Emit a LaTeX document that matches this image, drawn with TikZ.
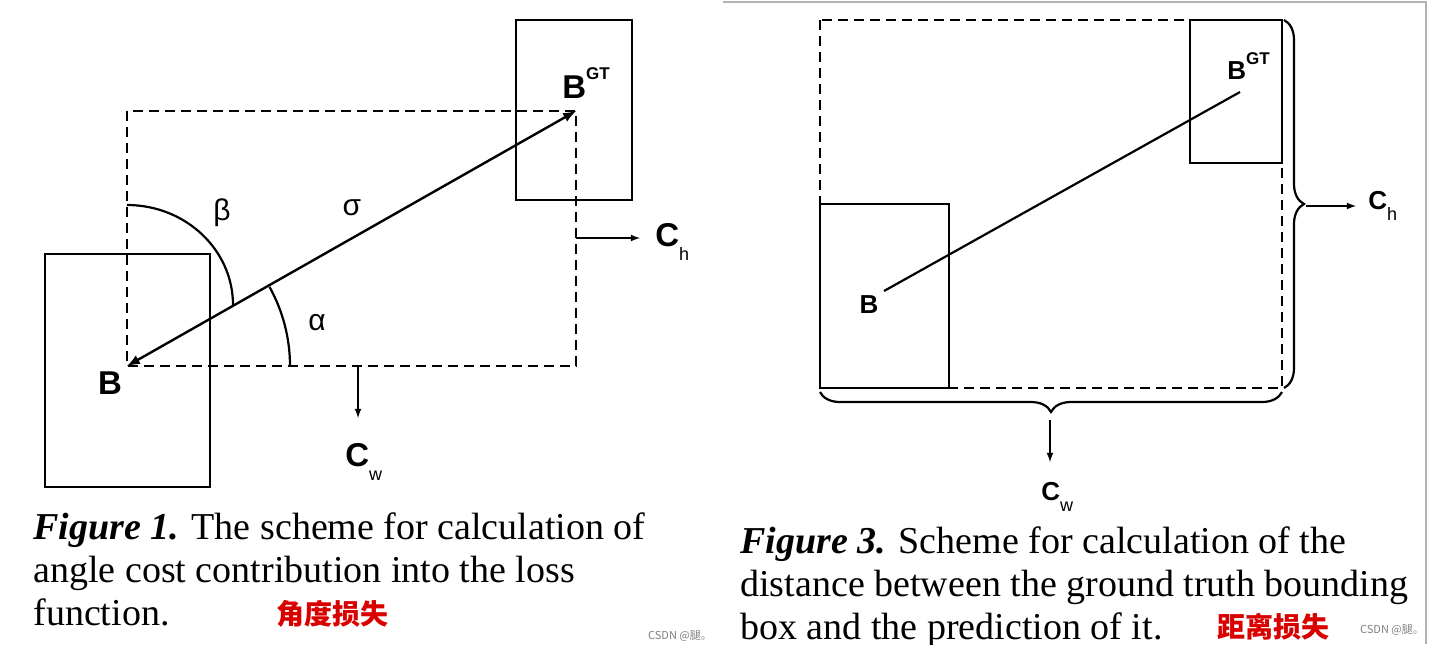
\documentclass[tikz,border=0pt]{standalone}
\usepackage{fontspec}
\setmainfont{Liberation Serif}
\newfontfamily\labelfont{Liberation Sans}
\newfontfamily\cjk{Noto Sans CJK SC}
\usepackage{tikz}
\usetikzlibrary{arrows}
\usetikzlibrary{positioning}
\usetikzlibrary{calc,decorations.pathreplacing}

\tikzset{
  box/.style={line width=1.25pt},
  dashbox/.style={line width=1.25pt, dash pattern=on 5pt off 3pt},
  pointer/.style={->, >=latex, line width=0.6pt},
  lbl/.style={font=\labelfont\bfseries\fontsize{16.5}{16.5}\selectfont, inner sep=0pt},
  slbl/.style={font=\labelfont\bfseries\fontsize{13}{13}\selectfont, inner sep=0pt},
  greek/.style={font=\labelfont\fontsize{15}{15}\selectfont, inner sep=0pt},
  brace/.style={decorate, decoration={brace, amplitude=10pt}, line width=1.1pt},
  caption/.style={align=left, inner sep=0pt, anchor=north west, font=\fontsize{19}{21.5}\selectfont},
  redtag/.style={font=\cjk\bfseries\fontsize{14}{14}\selectfont, text=red!85!black, inner sep=0pt},
  wmark/.style={font=\cjk\fontsize{5.5}{5.5}\selectfont, text=gray, inner sep=0pt}
}
\newcommand{\supGT}{\raisebox{1.1ex}{\fontsize{8.5}{8.5}\selectfont GT}}
\newcommand{\subsc}[1]{\raisebox{-0.8ex}{\fontsize{9}{9}\selectfont\mdseries #1}}

\begin{document}
\begin{tikzpicture}[x=0.5pt, y=-0.5pt]
\useasboundingbox (0,0) rectangle (1429,644);

% Figure 1: angle cost
\coordinate (B) at (127,366);
\coordinate (G) at (576,111);
\draw[box] (45,254) rectangle (210,487);
\draw[box] (516,20) rectangle (632,200);
\draw[dashbox] (127,111) rectangle (576,366);
\draw[latex-latex, line width=1.2pt] (B) -- (G);
\draw[line width=1.1pt] (B) ++(163,0) arc[start angle=0, end angle=-29, radius=163];
\draw[line width=1.1pt] (127,205) arc[start angle=-90, end angle=0, x radius=106, y radius=100];
\node[greek] (beta) at (222,213) {β};
\node[greek] (sigma) at (352,208) {σ};
\node[greek] (alpha) at (317,323) {α};
\node[lbl] (b1) at (110,383) {B};
\node[lbl, anchor=south west] (gt1) at (562,99) {B\supGT};
\coordinate (chs1) at (576,238);
\coordinate (cws1) at (358,366);
\node[lbl, anchor=west] (ch1) at (655,242) {C\subsc{h}};
\node[lbl, anchor=north west] (cw1) at (345,443) {C\subsc{w}};
\draw[pointer] (chs1) -- (640,238);
\draw[pointer] (cws1) -- (cws1 |- 0,418);

% Figure 3: distance cost
\coordinate (b2) at (884,291);
\coordinate (g2) at (1240,92);
\draw[dashbox] (820,20) rectangle (1282,388);
\draw[box] (820,204) rectangle (949,388);
\draw[box] (1190,20) rectangle (1282,163);
\draw[line width=1.1pt] (b2) -- (g2);
\node[slbl] (b3) at (869,305) {B};
\node[slbl, anchor=south west] (gt2) at (1227,80) {B\supGT};
\draw[brace] (1284,20) -- coordinate[pos=0.5] (hmid) (1284,388);
\draw[brace] (1282,392) -- coordinate[pos=0.5] (wmid) (820,392);
\coordinate (chs2) at (1306,206);
\coordinate (cws2) at (1050,420);
\node[slbl, anchor=west] (ch2) at (1368,206) {C\subsc{h}};
\node[slbl, anchor=north west] (cw2) at (1041,482) {C\subsc{w}};
\draw[pointer] (chs2) -- (1356,206);
\draw[pointer] (cws2) -- (1050,462);

% captions
\node[caption] (cap1) at (33,512) {\textbf{\textit{Figure 1.}} The scheme for calculation of\\angle cost contribution into the loss\\function.};
\node[caption] (cap3) at (740,526) {\textbf{\textit{Figure 3.}} Scheme for calculation of the\\distance between the ground truth bounding\\box and the prediction of it.};
\node[redtag] (tag1) at (332,614) {角度损失};
\node[redtag] (tag3) at (1273,627) {距离损失};
\node[wmark] (wm1) at (680,636) {CSDN @腿。};
\node[wmark] (wm3) at (1392,630) {CSDN @腿。};

% frame of the second panel
\draw[gray!60, line width=0.8pt] (723,2) -- (1426,2) -- (1426,644);
\end{tikzpicture}
\end{document}
